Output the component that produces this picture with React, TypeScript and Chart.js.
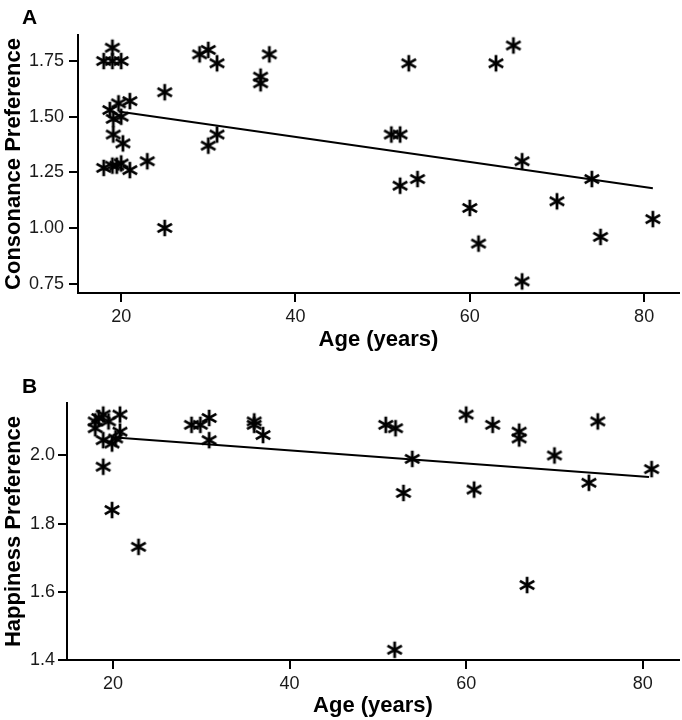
import React, { useEffect, useRef } from "react";
import { Chart, registerables } from "chart.js";

Chart.register(...registerables);

// ---------- Data ----------
const agesA = [18, 19, 20, 19, 19.7, 21, 18.7, 19.1, 20, 19.1, 20.2, 18, 19, 19.5, 20, 21, 23, 25, 25, 29, 30, 31, 37, 36, 36, 31, 30, 51, 52, 53, 63, 65, 66, 74, 52, 54, 60, 70, 81, 61, 75, 66];
const consonance = [1.75, 1.75, 1.75, 1.81, 1.56, 1.57, 1.53, 1.49, 1.5, 1.42, 1.38, 1.27, 1.28, 1.28, 1.29, 1.26, 1.3, 1.61, 1.0, 1.78, 1.8, 1.74, 1.78, 1.68, 1.65, 1.42, 1.37, 1.42, 1.42, 1.74, 1.74, 1.82, 1.3, 1.22, 1.19, 1.22, 1.09, 1.12, 1.04, 0.93, 0.96, 0.76];
const fitAgesA = [19.7, 81];
const fitValsA = [1.523, 1.179];

const agesB = [18.0, 18.9, 20.8, 18.0, 19.5, 20.8, 18.9, 19.9, 18.9, 19.9, 22.9, 18.4, 20.3, 28.9, 29.9, 30.9, 30.9, 36, 36, 37, 50.9, 52, 53.9, 52.9, 51.9, 60, 63, 66, 66, 70, 60.9, 74.9, 73.9, 81, 66.9];
const happiness = [2.1, 2.12, 2.12, 2.08, 2.1, 2.07, 2.045, 2.035, 1.967, 1.84, 1.732, 2.11, 2.05, 2.09, 2.09, 2.11, 2.045, 2.1, 2.09, 2.06, 2.09, 2.08, 1.99, 1.89, 1.43, 2.12, 2.09, 2.07, 2.05, 2.0, 1.9, 2.1, 1.92, 1.96, 1.62];
const fitAgesB = [20.3, 80.7];
const fitValsB = [2.053, 1.937];

const xTicks = [20, 40, 60, 80];
const yTicksA = [0.75, 1.0, 1.25, 1.5, 1.75];
const yTicksB = [1.4, 1.6, 1.8, 2.0];

const FONT = "'Liberation Sans', Arial, Helvetica, sans-serif";

function makeStar(): HTMLCanvasElement {
  const c = document.createElement("canvas");
  const s = 20;
  c.width = s;
  c.height = s;
  const ctx = c.getContext("2d")!;
  ctx.strokeStyle = "#000";
  ctx.lineWidth = 2.8;
  ctx.lineCap = "butt";
  const r = 8.3;
  ctx.beginPath();
  for (const deg of [90, 30, 150]) {
    const a = (deg * Math.PI) / 180;
    ctx.moveTo(s / 2 + r * Math.cos(a), s / 2 - r * Math.sin(a));
    ctx.lineTo(s / 2 - r * Math.cos(a), s / 2 + r * Math.sin(a));
  }
  ctx.stroke();
  return c;
}

const panelLabel = {
  id: "panelLabel",
  afterDraw(chart: any, _args: any, opts: any) {
    const ctx = chart.ctx;
    ctx.save();
    ctx.font = `bold ${opts.size}px ${FONT}`;
    ctx.fillStyle = "#000";
    ctx.textBaseline = "alphabetic";
    ctx.textAlign = "left";
    ctx.fillText(opts.text, opts.x, opts.y);
    ctx.restore();
  },
};

interface PanelSpec {
  ages: number[];
  vals: number[];
  fitX: number[];
  fitY: number[];
  yTicks: number[];
  decimals: number;
  xMin: number;
  xMax: number;
  yMin: number;
  yMax: number;
  yTitle: string;
  label: string;
  H: number;
  left: number;
  top: number;
  bottom: number;
  yPad: number;
  xTitleBottom: number;
  labelY: number;
}

function makeConfig(p: PanelSpec, star: HTMLCanvasElement): any {
  const axisColor = "#000";
  const grid = {
    display: true,
    drawOnChartArea: false,
    drawTicks: true,
    tickLength: 9,
    color: axisColor,
    lineWidth: 2,
  };
  const border = { display: true, color: axisColor, width: 2 };
  return {
    type: "scatter",
    data: {
      datasets: [
        {
          data: p.ages.map((a, i) => ({ x: a, y: p.vals[i] })),
          pointStyle: star,
          pointRadius: 8,
          pointHoverRadius: 8,
          showLine: false,
        },
        {
          data: p.fitX.map((a, i) => ({ x: a, y: p.fitY[i] })),
          showLine: true,
          borderColor: "#000",
          borderWidth: 2,
          pointRadius: 0,
          pointHoverRadius: 0,
          fill: false,
        },
      ],
    },
    options: {
      responsive: false,
      animation: false,
      devicePixelRatio: 1,
      layout: { autoPadding: false, padding: { top: p.top, right: 3, bottom: 0, left: 0 } },
      plugins: {
        legend: { display: false },
        tooltip: { enabled: false },
        title: { display: false },
        panelLabel: { text: p.label, x: 22, y: p.labelY, size: 21 },
      },
      scales: {
        x: {
          type: "linear",
          min: p.xMin,
          max: p.xMax,
          afterBuildTicks: (s: any) => {
            s.ticks = xTicks.map((v) => ({ value: v }));
          },
          afterFit: (s: any) => {
            s.height = p.H - p.bottom;
            s.paddingLeft = 0;
            s.paddingRight = 0;
          },
          ticks: {
            font: { family: FONT, size: 18 },
            color: "#1a1a1a",
            padding: 4,
            maxRotation: 0,
            autoSkip: false,
            callback: (v: any) => String(v),
          },
          grid,
          border,
          title: {
            display: true,
            text: "Age (years)",
            color: "#000",
            font: { family: FONT, size: 22, weight: "bold" },
            padding: { top: 0, bottom: p.xTitleBottom },
          },
        },
        y: {
          type: "linear",
          min: p.yMin,
          max: p.yMax,
          afterBuildTicks: (s: any) => {
            s.ticks = p.yTicks.map((v) => ({ value: v }));
          },
          afterFit: (s: any) => {
            s.width = p.left;
          },
          ticks: {
            font: { family: FONT, size: 18 },
            color: "#1a1a1a",
            padding: p.yPad,
            autoSkip: false,
            callback: (v: any) => Number(v).toFixed(p.decimals),
          },
          grid,
          border,
          title: {
            display: true,
            text: p.yTitle,
            color: "#000",
            font: { family: FONT, size: 22, weight: "bold" },
            padding: { top: 1, bottom: 0 },
          },
        },
      },
    },
    plugins: [panelLabel],
  };
}

export default function App() {
  const refA = useRef<HTMLCanvasElement>(null);
  const refB = useRef<HTMLCanvasElement>(null);

  useEffect(() => {
    const star = makeStar();
    const specA: PanelSpec = {
      ages: agesA,
      vals: consonance,
      fitX: fitAgesA,
      fitY: fitValsA,
      yTicks: yTicksA,
      decimals: 2,
      xMin: 15.05,
      xMax: 84,
      yMin: 0.708,
      yMax: 1.867,
      yTitle: "Consonance Preference",
      label: "A",
      H: 355,
      left: 78,
      top: 35,
      bottom: 293,
      yPad: 5,
      xTitleBottom: 2,
      labelY: 24,
    };
    const specB: PanelSpec = {
      ages: agesB,
      vals: happiness,
      fitX: fitAgesB,
      fitY: fitValsB,
      yTicks: yTicksB,
      decimals: 1,
      xMin: 14.8,
      xMax: 84.1,
      yMin: 1.4,
      yMax: 2.154,
      yTitle: "Happiness Preference",
      label: "B",
      H: 360,
      left: 67,
      top: 43,
      bottom: 300,
      yPad: 3,
      xTitleBottom: 1,
      labelY: 33,
    };
    const cA = new Chart(refA.current!, makeConfig(specA, star));
    const cB = new Chart(refB.current!, makeConfig(specB, star));
    return () => {
      cA.destroy();
      cB.destroy();
    };
  }, []);

  return (
    <div style={{ position: "fixed", left: 0, top: 0, width: 682, height: 720, background: "#fff" }}>
      <canvas ref={refA} width={682} height={355} style={{ position: "absolute", left: 0, top: 0, width: 682, height: 355 }} />
      <canvas ref={refB} width={682} height={360} style={{ position: "absolute", left: 0, top: 360, width: 682, height: 360 }} />
    </div>
  );
}
